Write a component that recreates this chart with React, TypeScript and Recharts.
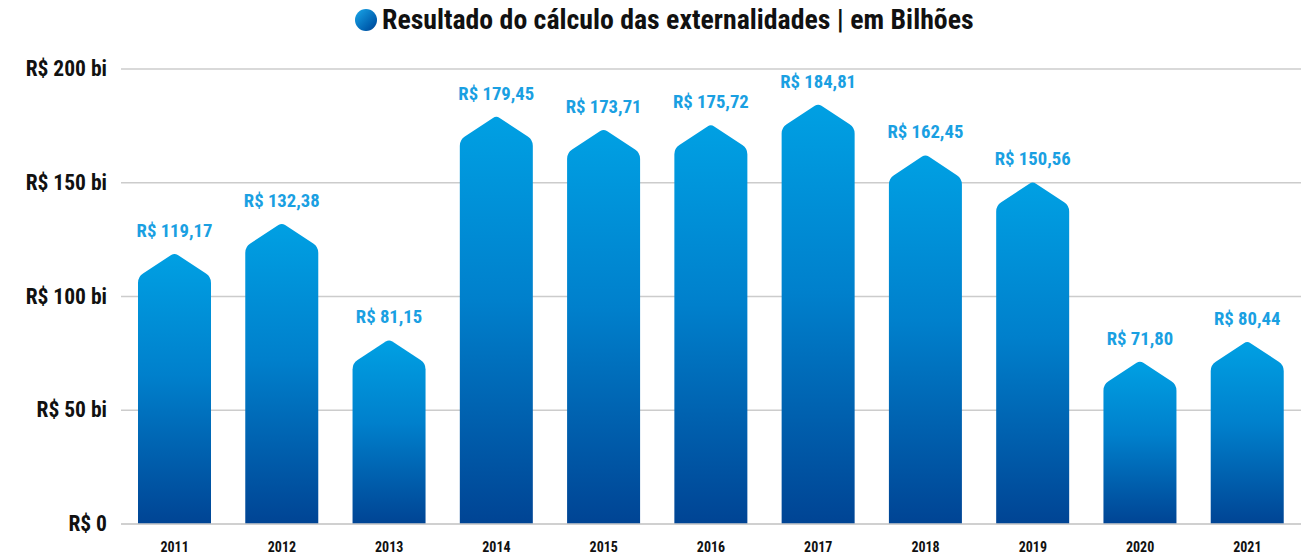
import React from "react";
import { BarChart, Bar, XAxis, YAxis, CartesianGrid, LabelList } from "recharts";

const years = ["2011", "2012", "2013", "2014", "2015", "2016", "2017", "2018", "2019", "2020", "2021"];
const values = [119.17, 132.38, 81.15, 179.45, 173.71, 175.72, 184.81, 162.45, 150.56, 71.8, 80.44];
const yTicks = [0, 50, 100, 150, 200];
const yTickLabels = ["R$ 0", "R$ 50 bi", "R$ 100 bi", "R$ 150 bi", "R$ 200 bi"];
const title = "Resultado do cálculo das externalidades | em Bilhões";

const data = years.map((year, i) => ({ year, value: values[i] }));

const FONT = '"Liberation Sans Narrow", "Roboto Condensed", "DejaVu Sans Condensed", "Roboto", sans-serif';

const fmt = (v: number) => "R$ " + v.toFixed(2).replace(".", ",");

const HouseBar = (props: any) => {
  const { x, y, width, height } = props;
  if (!height || height <= 0) return null;
  const d = Math.min(24, height);
  const cx = x + width / 2;
  const bottom = y + height;
  const r = 6;
  const rp = 4;
  const dx = width / 2;
  const L = Math.sqrt(dx * dx + d * d);
  const ux = dx / L;
  const uy = -d / L;
  const lc = { x: x, y: y + d };
  const rc = { x: x + width, y: y + d };
  const p1 = { x: lc.x + ux * r, y: lc.y + uy * r };
  const p2 = { x: cx - ux * rp, y: y + (d / L) * rp };
  const p3 = { x: cx + ux * rp, y: y + (d / L) * rp };
  const p4 = { x: rc.x - ux * r, y: rc.y + uy * r };
  const path = [
    `M${x},${bottom}`,
    `L${x},${lc.y + r}`,
    `Q${lc.x},${lc.y} ${p1.x},${p1.y}`,
    `L${p2.x},${p2.y}`,
    `Q${cx},${y} ${p3.x},${p3.y}`,
    `L${p4.x},${p4.y}`,
    `Q${rc.x},${rc.y} ${rc.x},${rc.y + r}`,
    `L${x + width},${bottom}`,
    "Z",
  ].join(" ");
  return <path d={path} fill="url(#barGrad)" />;
};

const YTick = (props: any) => {
  const { x, y, payload } = props;
  const idx = yTicks.indexOf(payload.value);
  return (
    <text x={x} y={y} dy={7} textAnchor="end" fontFamily={FONT} fontWeight={700} fontSize={21.5} fill="#111">
      {yTickLabels[idx]}
    </text>
  );
};

const XTick = (props: any) => {
  const { x, y, payload } = props;
  return (
    <text x={x} y={y} dy={12} textAnchor="middle" fontFamily={FONT} fontWeight={700} fontSize={14} fill="#111">
      {payload.value}
    </text>
  );
};

export default function App() {
  return (
    <div style={{ position: "absolute", left: 0, top: 0, width: 1305, height: 556, background: "#fff" }}>
      <div
        style={{
          position: "absolute",
          left: 355,
          top: 3,
          display: "flex",
          alignItems: "center",
          fontFamily: FONT,
          fontWeight: 700,
          fontSize: 27.8,
          color: "#111",
          whiteSpace: "nowrap",
        }}
      >
        <span
          style={{
            display: "inline-block",
            width: 22,
            height: 22,
            borderRadius: "50%",
            background: "linear-gradient(135deg, #1aa8ea 0%, #0060b0 70%, #003f8f 100%)",
            marginRight: 5,
          }}
        />
        <span>{title}</span>
      </div>
      <div style={{ position: "absolute", left: 0, top: 0 }}>
        <BarChart width={1305} height={556} data={data} margin={{ top: 69, right: 4, bottom: 0, left: 0 }} barSize={73}>
          <defs>
            <linearGradient id="barGrad" x1="0" y1="0" x2="0" y2="1">
              <stop offset="0%" stopColor="#00a0e3" />
              <stop offset="45%" stopColor="#0080cc" />
              <stop offset="100%" stopColor="#004494" />
            </linearGradient>
          </defs>
          <CartesianGrid vertical={false} stroke="#cccccc" strokeWidth={1.5} />
          <XAxis
            dataKey="year"
            height={32}
            axisLine={{ stroke: "#cccccc", strokeWidth: 1.5 }}
            tickLine={false}
            tickSize={6}
            tickMargin={10}
            tick={<XTick />}
            interval={0}
          />
          <YAxis
            domain={[0, 200]}
            ticks={yTicks}
            width={121}
            axisLine={false}
            tickLine={false}
            tickSize={6}
            tickMargin={8}
            tick={<YTick />}
            interval={0}
          />
          <Bar dataKey="value" shape={<HouseBar />} isAnimationActive={false}>
            <LabelList
              dataKey="value"
              position="top"
              offset={16}
              formatter={(v: any) => fmt(Number(v))}
              fill="#1aa0e2"
              fontFamily={FONT}
              fontWeight={700}
              fontSize={18.7}
            />
          </Bar>
        </BarChart>
      </div>
    </div>
  );
}
